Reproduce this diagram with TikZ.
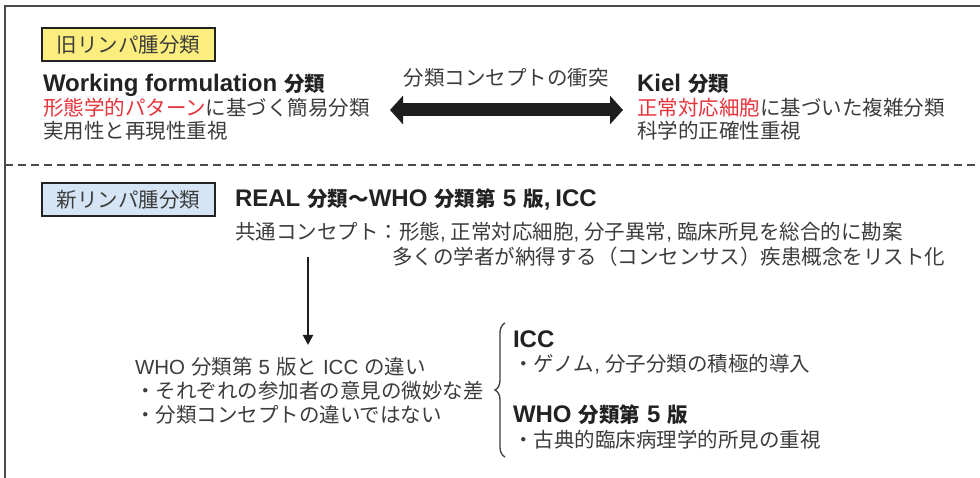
\documentclass[tikz,border=0pt]{standalone}
\usepackage{fontspec}
\setmainfont{Noto Sans CJK JP}
\newfontfamily\lat{Liberation Sans}
\newcommand\la[1]{{\lat #1}}
\newcommand\lb[1]{{\lat\bfseries\fontsize{24}{26}\selectfont #1}}
\newcommand\gap{\hspace{6pt}}
\newcommand\bgap{\hspace{7pt}}
\newcommand\cm{{\lat ,}\hspace{5pt}}
\usetikzlibrary{arrows.meta,decorations.pathreplacing}
\definecolor{txt}{HTML}{3C3C3C}
\definecolor{hdc}{HTML}{222222}
\definecolor{redt}{HTML}{E6333A}
\definecolor{yel}{HTML}{FCEE7E}
\definecolor{blu}{HTML}{D5E5F5}
\definecolor{framec}{HTML}{4A4A4A}
\definecolor{arr}{HTML}{1E1E1E}
\begin{document}
\begin{tikzpicture}[x=1pt,y=-1pt,
  every node/.style={inner sep=0pt,outer sep=0pt,text=txt,font=\fontsize{20.5}{24}\selectfont},
  lbl/.style={anchor=base west},
  hd/.style={anchor=base west,font=\fontsize{20.5}{24}\selectfont\bfseries,text=hdc},
  tagbox/.style={draw=hdc,line width=1.2pt,minimum width=173pt,minimum height=33pt,anchor=center},
  framel/.style={draw=framec,line width=1.5pt},
  bigarrow/.style={draw=arr,line width=13pt,{Triangle[length=13pt,width=28pt]}-{Triangle[length=13pt,width=28pt]}},
  downarrow/.style={draw=arr,line width=2pt,-{Triangle[length=10pt,width=10pt]}},
]
\path[use as bounding box] (0,0) rectangle (980,478);
% frame and separator
\draw[framel] (980,6) -- (5,6) -- (5,478);
\draw[framel,line width=1.2pt,dash pattern=on 8pt off 5pt] (5,165) -- (980,165);

% upper part
\node[tagbox,fill=yel] (old) at (128.5,44.5) {旧リンパ腫分類};
\node[hd] (wf) at (43,92) {\lb{Working formulation}\bgap 分類};
\node[lbl] (wf2) at (43,115.5) {\textcolor{redt}{形態学的パターン}に基づく簡易分類};
\node[lbl] (wf3) at (43,139) {実用性と再現性重視};
\node[hd] (kiel) at (637,92) {\lb{Kiel}\bgap 分類};
\node[lbl] (k2) at (637,115.5) {\textcolor{redt}{正常対応細胞}に基づいた複雑分類};
\node[lbl] (k3) at (637,139) {科学的正確性重視};
\node[anchor=base] (conf) at (506,86) {分類コンセプトの衝突};
\coordinate (aL) at (390,110);
\coordinate (aR) at (623,110);
\draw[bigarrow] (aL) -- (aR);

% lower part
\node[tagbox,fill=blu] (new) at (128.5,199.5) {新リンパ腫分類};
\node[hd] (real) at (235,207) {\lb{REAL}\bgap 分類～\lb{WHO}\bgap 分類第\bgap\lb{5}\bgap 版\lb{,}\hspace{5pt}\lb{ICC}};
\node[lbl] (cc1) at (235,240) {共通コンセプト：形態\cm 正常対応細胞\cm 分子異常\cm 臨床所見を総合的に勘案};
\node[lbl] (cc2) at (392,265) {多くの学者が納得する（コンセンサス）疾患概念をリスト化};
\coordinate (vt) at (308,257);
\coordinate (vb) at (308,345);
\draw[downarrow] (vt) -- (vb);
\node[lbl] (d1) at (135,374) {\la{WHO}\gap 分類第\gap\la{5}\gap 版と\gap\la{ICC}\gap の違い};
\node[lbl] (d2) at (135,398) {・それぞれの参加者の意見の微妙な差};
\node[lbl] (d3) at (135,422) {・分類コンセプトの違いではない};
\coordinate (bb) at (505,457);
\coordinate (bt) at (505,323);
\draw[draw=txt,line width=1.3pt,decorate,decoration={brace,amplitude=10pt}] (bb) -- (bt);
\node[hd] (icc) at (513,348) {\lb{ICC}};
\node[lbl] (icc2) at (513,371) {・ゲノム\cm 分子分類の積極的導入};
\node[hd] (who) at (513,422) {\lb{WHO}\bgap 分類第\bgap\lb{5}\bgap 版};
\node[lbl] (who2) at (513,447) {・古典的臨床病理学的所見の重視};
\end{tikzpicture}
\end{document}
